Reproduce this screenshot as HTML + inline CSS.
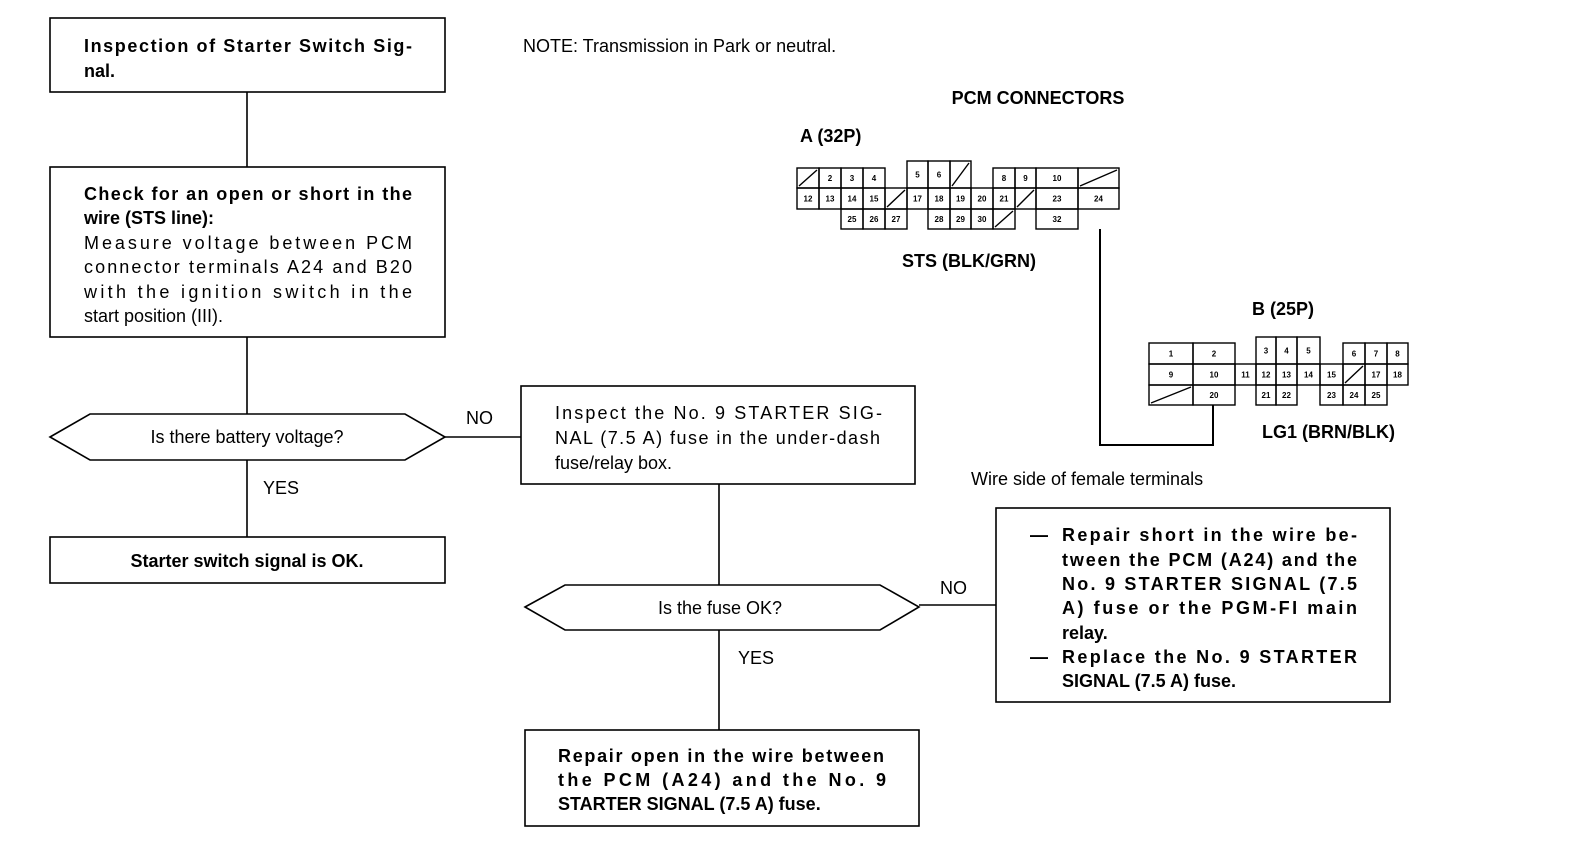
<!DOCTYPE html>
<html><head><meta charset="utf-8"><style>
html,body{margin:0;padding:0;background:#fff;}
svg{display:block}
text{font-family:"Liberation Sans",Arial,sans-serif;fill:#000}
.b{font-weight:bold;font-size:18px}
.n{font-size:18px}
.c{font-weight:bold;font-size:8px;text-anchor:middle}
</style></head><body>
<svg id="s" width="1584" height="858" viewBox="0 0 1584 858" xmlns="http://www.w3.org/2000/svg">
<g fill="none" stroke="#000" stroke-width="1.6">
<rect x="50" y="18" width="395" height="74"/>
<rect x="50" y="167" width="395" height="170"/>
<rect x="50" y="537" width="395" height="46"/>
<rect x="521" y="386" width="394" height="98"/>
<rect x="525" y="730" width="394" height="96"/>
<rect x="996" y="508" width="394" height="194"/>
<polygon points="50,437 90,414 405,414 445,437 405,460 90,460"/>
<polygon points="525,607 565,585 880,585 919,607 880,630 565,630"/>
<path d="M247 92V167M247 337V414M247 460V537M445 437H521M719 484V585M719 630V730M919 605H996"/>
<path d="M1100 229V445H1213V405" stroke-width="2"/>
</g>
<text class="b" x="84" y="52" textLength="328" lengthAdjust="spacing">Inspection of Starter Switch Sig-</text>
<text class="b" x="84" y="77">nal.</text>
<text class="b" x="84" y="200" textLength="328" lengthAdjust="spacing">Check for an open or short in the</text>
<text class="b" x="84" y="224">wire (STS line):</text>
<text class="n" x="84" y="249" textLength="328" lengthAdjust="spacing">Measure voltage between PCM</text>
<text class="n" x="84" y="273" textLength="328" lengthAdjust="spacing">connector terminals A24 and B20</text>
<text class="n" x="84" y="298" textLength="328" lengthAdjust="spacing">with the ignition switch in the</text>
<text class="n" x="84" y="322">start position (III).</text>
<text class="n" x="247" y="443" text-anchor="middle">Is there battery voltage?</text>
<text class="n" x="263" y="494">YES</text>
<text class="b" x="247" y="567" text-anchor="middle">Starter switch signal is OK.</text>
<text class="n" x="466" y="424">NO</text>
<text class="n" x="555" y="419" textLength="327" lengthAdjust="spacing">Inspect the No. 9 STARTER SIG-</text>
<text class="n" x="555" y="444" textLength="325" lengthAdjust="spacing">NAL (7.5 A) fuse in the under-dash</text>
<text class="n" x="555" y="469">fuse/relay box.</text>
<text class="n" x="720" y="614" text-anchor="middle">Is the fuse OK?</text>
<text class="n" x="738" y="664">YES</text>
<text class="b" x="558" y="762" textLength="326" lengthAdjust="spacing">Repair open in the wire between</text>
<text class="b" x="558" y="786" textLength="328" lengthAdjust="spacing">the PCM (A24) and the No. 9</text>
<text class="b" x="558" y="810">STARTER SIGNAL (7.5 A) fuse.</text>
<text class="n" x="940" y="594">NO</text>
<text class="b" x="1030" y="541">—</text>
<text class="b" x="1062" y="541" textLength="295" lengthAdjust="spacing">Repair short in the wire be-</text>
<text class="b" x="1062" y="566" textLength="295" lengthAdjust="spacing">tween the PCM (A24) and the</text>
<text class="b" x="1062" y="590" textLength="295" lengthAdjust="spacing">No. 9 STARTER SIGNAL (7.5</text>
<text class="b" x="1062" y="614" textLength="295" lengthAdjust="spacing">A) fuse or the PGM-FI main</text>
<text class="b" x="1062" y="639">relay.</text>
<text class="b" x="1030" y="663">—</text>
<text class="b" x="1062" y="663" textLength="295" lengthAdjust="spacing">Replace the No. 9 STARTER</text>
<text class="b" x="1062" y="687">SIGNAL (7.5 A) fuse.</text>
<text class="n" x="523" y="52">NOTE:  Transmission in Park or neutral.</text>
<text class="b" x="1038" y="104" text-anchor="middle">PCM CONNECTORS</text>
<text class="b" x="800" y="142">A (32P)</text>
<text class="b" x="902" y="267">STS (BLK/GRN)</text>
<text class="b" x="1252" y="315">B (25P)</text>
<text class="b" x="1262" y="438">LG1 (BRN/BLK)</text>
<text class="n" x="971" y="485">Wire side of female terminals</text>
<g id="cells" fill="none" stroke="#000" stroke-width="1.4"></g>
</svg>
<script>
(function(){
var g=document.getElementById('cells'),NS='http://www.w3.org/2000/svg';
function cell(x1,y1,x2,y2,t){
 var r=document.createElementNS(NS,'rect');r.setAttribute('x',x1);r.setAttribute('y',y1);r.setAttribute('width',x2-x1);r.setAttribute('height',y2-y1);g.appendChild(r);
 if(t==='/'){var l=document.createElementNS(NS,'line');l.setAttribute('x1',x1+2);l.setAttribute('y1',y2-2);l.setAttribute('x2',x2-2);l.setAttribute('y2',y1+2);g.appendChild(l);}
 else if(t){var tx=document.createElementNS(NS,'text');tx.setAttribute('class','c');tx.setAttribute('x',(x1+x2)/2);tx.setAttribute('y',(y1+y2)/2+3);tx.setAttribute('stroke','none');tx.textContent=t;g.appendChild(tx);}
}
var ax=[797,819,841,863,885,907,928,950,971,993,1015,1036,1078,1119];
var ay=[168,188,209,229];
var topRow=[['/',0],['2',1],['3',2],['4',3],['5',5],['6',6],['/',7],['8',9],['9',10]];
topRow.forEach(function(c){var i=c[1];cell(ax[i],(i>=5&&i<=7)?161:ay[0],ax[i+1],ay[1],c[0]);});
cell(ax[11],ay[0],ax[12],ay[1],'10');cell(ax[12],ay[0],ax[13],ay[1],'/');
var mid=['12','13','14','15','/','17','18','19','20','21','/'];
mid.forEach(function(t,i){cell(ax[i],ay[1],ax[i+1],ay[2],t);});
cell(ax[11],ay[1],ax[12],ay[2],'23');cell(ax[12],ay[1],ax[13],ay[2],'24');
[['25',2],['26',3],['27',4],['28',6],['29',7],['30',8],['/',9]].forEach(function(c){cell(ax[c[1]],ay[2],ax[c[1]+1],ay[3],c[0]);});
cell(ax[11],ay[2],ax[12],ay[3],'32');
var bx=[1149,1193,1235,1256,1276,1297,1320,1343,1365,1387,1408];
var by=[343,364,385,405];
cell(bx[0],by[0],bx[1],by[1],'1');cell(bx[1],by[0],bx[2],by[1],'2');
cell(bx[3],337,bx[4],by[1],'3');cell(bx[4],337,bx[5],by[1],'4');cell(bx[5],337,bx[6],by[1],'5');
cell(bx[7],by[0],bx[8],by[1],'6');cell(bx[8],by[0],bx[9],by[1],'7');cell(bx[9],by[0],bx[10],by[1],'8');
['9','10','11','12','13','14','15','/','17','18'].forEach(function(t,i){cell(bx[i],by[1],bx[i+1],by[2],t);});
cell(bx[0],by[2],bx[1],by[3],'/');cell(bx[1],by[2],bx[2],by[3],'20');
cell(bx[3],by[2],bx[4],by[3],'21');cell(bx[4],by[2],bx[5],by[3],'22');
cell(bx[6],by[2],bx[7],by[3],'23');cell(bx[7],by[2],bx[8],by[3],'24');cell(bx[8],by[2],bx[9],by[3],'25');
})();
</script>
</body></html>
